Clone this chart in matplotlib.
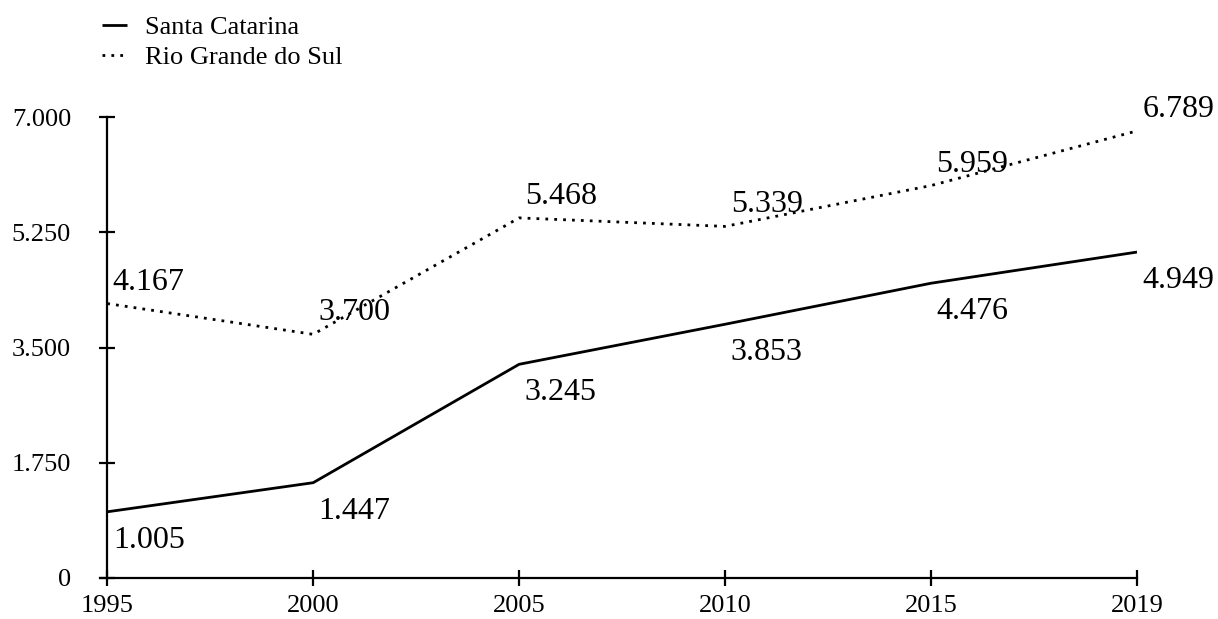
import matplotlib
matplotlib.use("Agg")
import matplotlib.pyplot as plt
from matplotlib.ticker import FuncFormatter

years = ["1995", "2000", "2005", "2010", "2015", "2019"]
santa_catarina = [1005, 1447, 3245, 3853, 4476, 4949]
rio_grande_do_sul = [4167, 3700, 5468, 5339, 5959, 6789]
yticks = [0, 1750, 3500, 5250, 7000]

plt.rcParams['font.family'] = ['Liberation Serif', 'DejaVu Serif']

fig = plt.figure(figsize=(12.18, 6.19), dpi=100)
ax = fig.add_axes([100/1218, 1-578/619, (1137-100)/1218, (578-117)/619])

x = list(range(len(years)))
l1, = ax.plot(x, santa_catarina, color='black', lw=2.0, solid_capstyle='butt', label='Santa Catarina')
l2, = ax.plot(x, rio_grande_do_sul, color='black', lw=2.0, linestyle=(0, (1, 2.2)), label='Rio Grande do Sul')

for xi, v in zip(x, santa_catarina):
    ax.annotate(f"{v/1000:.3f}", (xi, v), xytext=(4, -10), textcoords='offset points',
                ha='left', va='top', fontsize=23)
for xi, v in zip(x, rio_grande_do_sul):
    ax.annotate(f"{v/1000:.3f}", (xi, v), xytext=(4, 5), textcoords='offset points',
                ha='left', va='bottom', fontsize=23)

ax.set_xlim(-0.035, 5)
ax.set_ylim(0, 7000)
ax.set_xticks(x)
ax.set_xticklabels(years)
ax.set_yticks(yticks)
ax.yaxis.set_major_formatter(FuncFormatter(lambda v, p: "0" if v == 0 else f"{v/1000:.3f}"))
for s in ['top', 'right']:
    ax.spines[s].set_visible(False)
ax.spines['left'].set_position(('data', 0))
ax.spines['left'].set_bounds(0, 7000)
for s in ['left', 'bottom']:
    ax.spines[s].set_linewidth(1.6)
ax.tick_params(axis='both', direction='inout', length=12, width=1.6, labelsize=19)
ax.tick_params(axis='y', pad=20)
ax.tick_params(axis='x', pad=6)

fig.legend(handles=[l1, l2], loc='upper left', bbox_to_anchor=(0.0705, 1.0), frameon=False,
           fontsize=19, handlelength=0.95, handletextpad=0.7, labelspacing=0.25, borderaxespad=0.2)

fig.savefig("out.png", dpi=100)
